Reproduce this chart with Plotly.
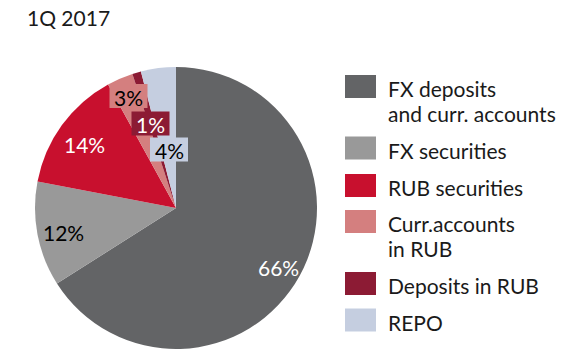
import plotly.graph_objects as go

# Portfolio structure, 1Q 2017 (shares, %)
categories = [
    "FX deposits<br>and curr. accounts",
    "FX securities",
    "RUB securities",
    "Curr.accounts<br>in RUB",
    "Deposits in RUB",
    "REPO",
]
shares = [66, 12, 14, 3, 1, 4]
colors = ["#636466", "#999999", "#C8102E", "#D47F7F", "#8C1B34", "#C5CEE0"]
label_font_colors = ["white", "black", "white", "black", "white", "black"]
boxed = [False, False, False, True, True, True]
title_text = "1Q 2017"

W, H = 574, 349
FONT = "Lato"
FS = 21

# pie placement in pixels (left, top, right, bottom)
pie_l, pie_t, pie_r, pie_b = 35, 67, 317, 349

# label centres in pixels
label_pos = [(278, 266.5), (63, 231), (84, 143), (128.5, 96), (150.5, 123.5), (169, 149.5)]
box_w, box_h = 38, 24

# legend geometry in pixels
legend_sw_x0, legend_sw_x1 = 345, 376
legend_text_x = 386
legend_centers = [86.5, 148, 185.5, 221.5, 283.5, 320]
legend_sw_h = 23
legend_line_gap = 25


def px(x):
    return x / W


def py(y):
    return 1 - y / H


fig = go.Figure(
    go.Pie(
        labels=categories,
        values=shares,
        marker=dict(colors=colors, line=dict(width=0)),
        sort=False,
        direction="clockwise",
        rotation=0,
        textinfo="none",
        hoverinfo="label+percent",
        showlegend=False,
        domain=dict(x=[px(pie_l), px(pie_r)], y=[py(pie_b), py(pie_t)]),
    )
)

annotations = []
shapes = []

# slice labels (small slices get a coloured box behind the text)
for val, (lx, ly), fc, col, box in zip(shares, label_pos, label_font_colors, colors, boxed):
    if box:
        shapes.append(
            dict(
                type="rect", xref="paper", yref="paper", layer="above",
                x0=px(lx - box_w / 2), x1=px(lx + box_w / 2),
                y0=py(ly + box_h / 2), y1=py(ly - box_h / 2),
                fillcolor=col, line=dict(width=0),
            )
        )
    annotations.append(
        dict(
            x=px(lx), y=py(ly + 1), xref="paper", yref="paper",
            text=f"{val}%", showarrow=False,
            xanchor="center", yanchor="middle",
            font=dict(family=FONT, size=FS, color=fc),
        )
    )

# legend
for cat, col, cy in zip(categories, colors, legend_centers):
    shapes.append(
        dict(
            type="rect", xref="paper", yref="paper",
            x0=px(legend_sw_x0), x1=px(legend_sw_x1),
            y0=py(cy + legend_sw_h / 2), y1=py(cy - legend_sw_h / 2),
            fillcolor=col, line=dict(width=0),
        )
    )
    for i, line in enumerate(cat.split("<br>")):
        annotations.append(
            dict(
                x=px(legend_text_x), y=py(cy + 2 + i * legend_line_gap),
                xref="paper", yref="paper",
                text=line, showarrow=False, align="left",
                xanchor="left", yanchor="middle",
                font=dict(family=FONT, size=FS, color="#1a1a1a"),
            )
        )

# title
annotations.append(
    dict(
        x=px(25), y=py(17.5), xref="paper", yref="paper",
        text=title_text, showarrow=False,
        xanchor="left", yanchor="middle",
        font=dict(family=FONT, size=FS, color="#1a1a1a"),
    )
)

fig.update_layout(
    width=W, height=H,
    margin=dict(l=0, r=0, t=0, b=0),
    paper_bgcolor="white",
    plot_bgcolor="white",
    annotations=annotations,
    shapes=shapes,
)

fig.write_html("out.html")
